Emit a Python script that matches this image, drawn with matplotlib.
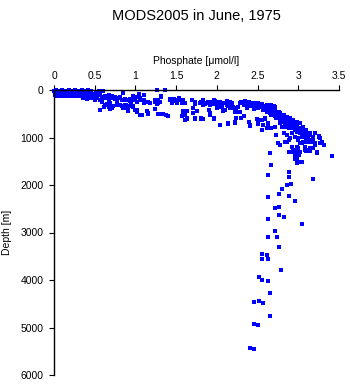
import matplotlib
matplotlib.use('Agg')
import matplotlib.pyplot as plt
import numpy as np
from matplotlib.ticker import FormatStrFormatter

plt.rcParams['font.family'] = ['Liberation Sans', 'DejaVu Sans']

# surface layer (0 - 200 m)
surf_po4 = [0.02, 0.06, 0.10, 0.14, 0.18, 0.22, 0.26, 0.30, 0.34, 0.38, 0.42, 0.46,
            0.01, 0.05, 0.09, 0.13, 0.17, 0.21, 0.25, 0.29, 0.33, 0.37, 0.41, 0.45,
            0.03, 0.07, 0.11, 0.15, 0.19, 0.23, 0.27, 0.31, 0.35, 0.39, 0.43, 0.47,
            0.04, 0.08, 0.12, 0.16, 0.20, 0.24, 0.28, 0.32, 0.36, 0.40, 0.44, 0.48,
            0.00, 0.04, 0.08, 0.12, 0.16, 0.20, 0.24, 0.28, 0.32, 0.36, 0.40, 0.44,
            0.02, 0.06, 0.10, 0.14, 0.18, 0.22, 0.26, 0.30, 0.34, 0.38, 0.42, 0.50,
            0.01, 0.05, 0.09, 0.13, 0.17, 0.21, 0.25, 0.29, 0.33, 0.37, 0.41, 0.49,
            0.35, 0.40, 0.45, 0.50, 0.48, 0.52, 0.55, 0.60, 0.38, 0.43, 0.50, 0.53]
surf_depth = [10, 15, 10, 20, 10, 15, 10, 20, 10, 15, 10, 20,
              50, 45, 55, 50, 45, 55, 50, 45, 55, 50, 45, 55,
              90, 85, 95, 90, 85, 95, 90, 85, 95, 90, 85, 95,
              125, 120, 125, 120, 125, 120, 125, 130, 125, 130, 125, 130,
              30, 30, 35, 30, 30, 35, 30, 30, 35, 30, 30, 35,
              70, 70, 75, 70, 70, 75, 70, 70, 75, 70, 70, 75,
              108, 105, 108, 105, 108, 105, 108, 105, 110, 105, 110, 105,
              170, 190, 160, 200, 140, 60, 30, 20, 150, 175, 110, 160]

# upper thermocline (0.5 - 2 umol/l)
upper_po4 = [0.54, 0.59, 0.56, 0.61, 0.65, 0.67, 0.71, 0.75, 0.79, 0.83, 0.89, 0.69,
             0.67, 0.71, 0.56, 0.63, 0.77, 0.81, 0.87, 0.91, 0.85,
             0.56, 0.59, 0.63, 0.67, 0.69, 0.71, 0.75, 0.77, 0.81, 0.85, 0.87, 0.59,
             0.61, 0.65, 0.56, 0.69, 0.73, 0.77, 0.83, 0.89, 0.91, 0.95, 0.97, 1.02,
             1.04, 1.06, 1.10, 1.10, 0.99, 1.02, 1.08, 1.14, 1.16, 1.24, 1.28, 1.32,
             1.38, 1.18, 1.24, 1.26, 1.28, 1.26, 1.36, 1.32, 1.42, 1.45, 1.47, 1.51,
             1.55, 1.59, 1.57, 1.59, 1.63, 1.61, 1.63, 1.73, 1.71, 1.69, 1.73, 1.79,
             1.83, 1.88, 1.90, 1.94, 1.96, 2.00, 1.92, 1.96, 2.04, 0.97, 0.93,
             1.04, 1.27, 1.36, 1.32, 1.00, 1.06, 1.10, 1.02, 0.97, 0.93, 0.89, 1.16,
             1.24, 1.28, 1.30, 1.42, 1.47, 1.51, 1.53, 1.59, 1.61, 1.69, 1.73, 1.81,
             1.83, 0.89, 0.93, 0.97, 0.91, 1.02, 1.06, 1.14, 1.16, 1.24, 1.28, 1.34,
             1.40, 1.59, 1.57, 1.63, 1.61, 1.73, 1.81, 1.75, 1.71]
upper_depth = [105, 140, 210, 175, 160, 210, 175, 190, 175, 210, 210, 280,
               350, 385, 420, 315, 245, 315, 315, 420, 385,
               105, 155, 126, 105, 155, 126, 140, 175, 155, 70, 196, 245,
               350, 295, 420, 407, 337, 316, 337, 386, 435, 295, 337, 155,
               84, 210, 105, 267, 420, 456, 526, 435, 491, 407, 505, 505,
               526, 267, 210, 295, 267, 10, 10, 126, 196, 267, 225, 280,
               210, 225, 267, 456, 435, 526, 617, 617, 491, 210, 295, 280,
               225, 280, 420, 245, 295, 295, 526, 596, 737, 126, 196,
               91, 7, 7, 141, 176, 176, 211, 246, 211, 232, 211, 260,
               246, 211, 260, 211, 190, 211, 176, 211, 281, 211, 246, 246,
               316, 316, 330, 351, 421, 421, 526, 442, 512, 400, 512, 512,
               540, 442, 540, 597, 632, 597, 597, 442, 386]

# lower thermocline (2 - 3.4 umol/l, 200 - 1400 m)
mid_po4 = [1.81, 1.83, 1.85, 1.89, 1.92, 1.96, 1.98, 2.00, 2.02, 2.04, 2.06, 2.08,
           2.10, 2.12, 2.14, 2.16, 2.18, 2.20, 2.22, 2.24, 2.26, 2.28, 2.30, 2.33,
           2.35, 2.37, 2.39, 2.41, 2.43, 2.45, 2.47, 2.49, 2.51, 2.53, 2.55, 2.57,
           2.59, 2.61, 2.63, 2.65, 2.67, 2.69, 2.70, 2.71, 2.73, 2.76, 2.78, 2.80,
           2.82, 2.84, 2.86, 2.88, 2.90, 2.92, 2.94, 2.96, 2.98, 3.00, 3.02, 3.04,
           3.06, 3.10, 3.14, 3.18, 3.20, 3.25, 3.27, 3.29, 3.31,
           1.83, 1.92, 1.96, 2.04, 2.14, 2.22, 2.41, 2.49, 2.55, 2.51, 2.59, 2.63,
           2.67, 2.71, 2.73, 2.78, 3.41, 3.23, 3.20, 3.14, 3.08, 3.02, 2.98, 2.94,
           2.90, 2.98, 3.04, 2.96, 2.86, 2.88, 2.92, 2.98, 3.02, 3.06, 3.10, 3.14,
           2.96, 3.00, 3.04, 2.92, 2.88, 2.84, 2.80, 2.78, 2.82, 2.86, 2.90, 2.84,
           2.76, 2.71, 2.65, 2.61,
           2.49, 2.53, 2.55, 2.51, 2.57, 2.59, 2.61, 2.63, 2.65, 2.67, 2.69, 2.71,
           2.73, 2.75, 2.77, 2.80, 2.82, 2.84, 2.86, 2.88, 2.90, 2.92, 2.94, 2.96,
           2.98, 3.00, 3.02, 3.04, 3.06, 3.08, 3.10, 3.12, 3.14, 3.16, 3.18, 3.20,
           2.71, 2.69, 2.67, 2.73, 2.77, 2.82, 2.86, 2.90, 2.94, 2.98, 3.02, 3.06,
           3.10, 3.14, 2.92, 2.96, 3.00, 3.04, 3.08, 2.96, 2.92, 3.00, 3.12, 3.18,
           3.23, 2.88, 2.84, 2.75, 2.73, 2.53, 2.55, 2.63, 2.59, 3.27, 3.31,
           3.20, 3.25,
           1.81, 1.83, 1.90, 1.92, 1.96, 1.98, 2.00, 2.02, 2.04, 2.06, 2.08, 2.10,
           2.12, 2.14, 2.16, 2.18, 2.20, 2.22, 2.24, 2.26, 2.28, 2.30, 2.33, 2.35,
           2.37, 2.39, 2.41, 2.43, 2.45, 2.47, 2.49, 2.51, 2.53, 2.55, 2.57, 2.59,
           2.61, 2.63, 2.65, 1.81, 1.92, 1.96, 2.04, 2.14, 2.22, 2.24, 2.30, 2.33,
           2.39, 2.41, 2.49, 2.51, 2.55, 2.55, 2.61, 2.63, 2.57]
mid_depth = [281, 246, 295, 246, 316, 281, 225, 295, 246, 351, 316, 435,
             281, 225, 337, 246, 295, 351, 435, 386, 456, 281, 246, 295,
             225, 316, 267, 295, 337, 295, 281, 351, 316, 337, 295, 386,
             337, 365, 337, 386, 435, 407, 337, 456, 491, 547, 526, 596,
             575, 645, 617, 702, 667, 737, 716, 772, 758, 828, 807, 877,
             856, 912, 947, 982, 912, 968, 1017, 1088, 1158,
             618, 491, 618, 737, 702, 702, 737, 618, 842, 667, 618, 772,
             807, 772, 947, 1158, 1389, 1298, 1158, 1228, 1263, 1298, 1298, 1263,
             1298, 1459, 1509, 1368, 1088, 1298, 1193, 1193, 1123, 1088, 1088, 1088,
             982, 1017, 982, 912, 807, 772, 772, 702, 912, 947, 1017, 561,
             456, 386, 316, 316,
             281, 316, 351, 386, 421, 386, 456, 421, 491, 526, 491, 547,
             596, 547, 632, 667, 618, 702, 737, 688, 772, 807, 758, 842,
             877, 828, 912, 947, 898, 982, 1017, 968, 1053, 1088, 1039, 1123,
             351, 386, 316, 456, 491, 526, 561, 596, 632, 667, 702, 772,
             842, 912, 912, 982, 1053, 1123, 1193, 1263, 1298, 1228, 1263, 1228,
             1298, 1053, 1088, 1123, 947, 632, 842, 737, 596, 1123, 1158,
             912, 982,
             246, 211, 246, 316, 211, 281, 386, 316, 246, 351, 281, 421,
             316, 246, 372, 281, 386, 456, 421, 351, 470, 246, 316, 281,
             386, 246, 330, 281, 400, 330, 386, 281, 351, 316, 421, 386,
             351, 421, 456, 611, 512, 597, 737, 723, 681, 597, 597, 540,
             667, 751, 611, 723, 632, 842, 793, 702, 737]

# deep water (below 1300 m)
deep_po4 = [2.65, 2.67, 2.63, 2.88, 2.89, 3.18, 3.23, 2.99, 3.03, 2.96, 2.89, 2.96,
            3.01, 3.10, 3.14,
            2.86, 2.91, 2.80, 2.63, 2.76, 2.89, 2.96, 2.72, 2.76, 2.76, 2.82, 2.63,
            2.72, 3.05, 2.63, 2.74, 2.76, 2.55, 2.61, 2.55, 2.63, 2.79, 2.52, 2.55,
            2.63, 2.65, 2.46, 2.52, 2.57, 2.65, 2.46, 2.50, 2.41, 2.46]
deep_depth = [1333, 1579, 1789, 1719, 1838, 1880, 1319, 1530, 1509, 1460, 1298, 1347,
              1361, 1277, 1277,
              1999, 1979, 2091, 2246, 2196, 2239, 2344, 2491, 2470, 2639, 2667, 2723,
              2968, 2828, 3102, 3102, 3312, 3452, 3481, 3558, 3558, 3796, 3944, 4000,
              4014, 4280, 4463, 4435, 4477, 4765, 4933, 4954, 5438, 5459]

po4 = surf_po4 + upper_po4 + mid_po4 + deep_po4
depth = surf_depth + upper_depth + mid_depth + deep_depth

fig = plt.figure(figsize=(3.5, 3.84), dpi=100)
ax = fig.add_axes([54 / 350, 9 / 384, 285 / 350, 285 / 384])

ax.plot(po4, depth, 's', color='#0000ff', ms=2.2, mew=0, clip_on=False)

ax.set_xlim(0, 3.5)
ax.set_ylim(6000, 0)
ax.set_xticks(np.arange(0, 3.51, 0.5))
ax.set_yticks(np.arange(0, 6001, 1000))
ax.xaxis.set_major_formatter(FormatStrFormatter('%g'))
ax.xaxis.tick_top()
ax.xaxis.set_label_position('top')
ax.spines['right'].set_visible(False)
ax.spines['bottom'].set_visible(False)
ax.spines['top'].set_linewidth(1.0)
ax.spines['left'].set_linewidth(1.0)
ax.tick_params(axis='both', direction='out', length=3.6, width=0.8,
               labelsize=7.5, pad=3)
ax.tick_params(axis='y', pad=4)

ax.set_xlabel('Phosphate [μmol/l]', fontsize=7.5, labelpad=5)
ax.set_ylabel('Depth [m]', fontsize=7.5, labelpad=6)
fig.text(196.5 / 350, 1 - 16 / 384, 'MODS2005 in June, 1975', ha='center',
         va='center', fontsize=10.5)

fig.savefig('out.png', dpi=100)
